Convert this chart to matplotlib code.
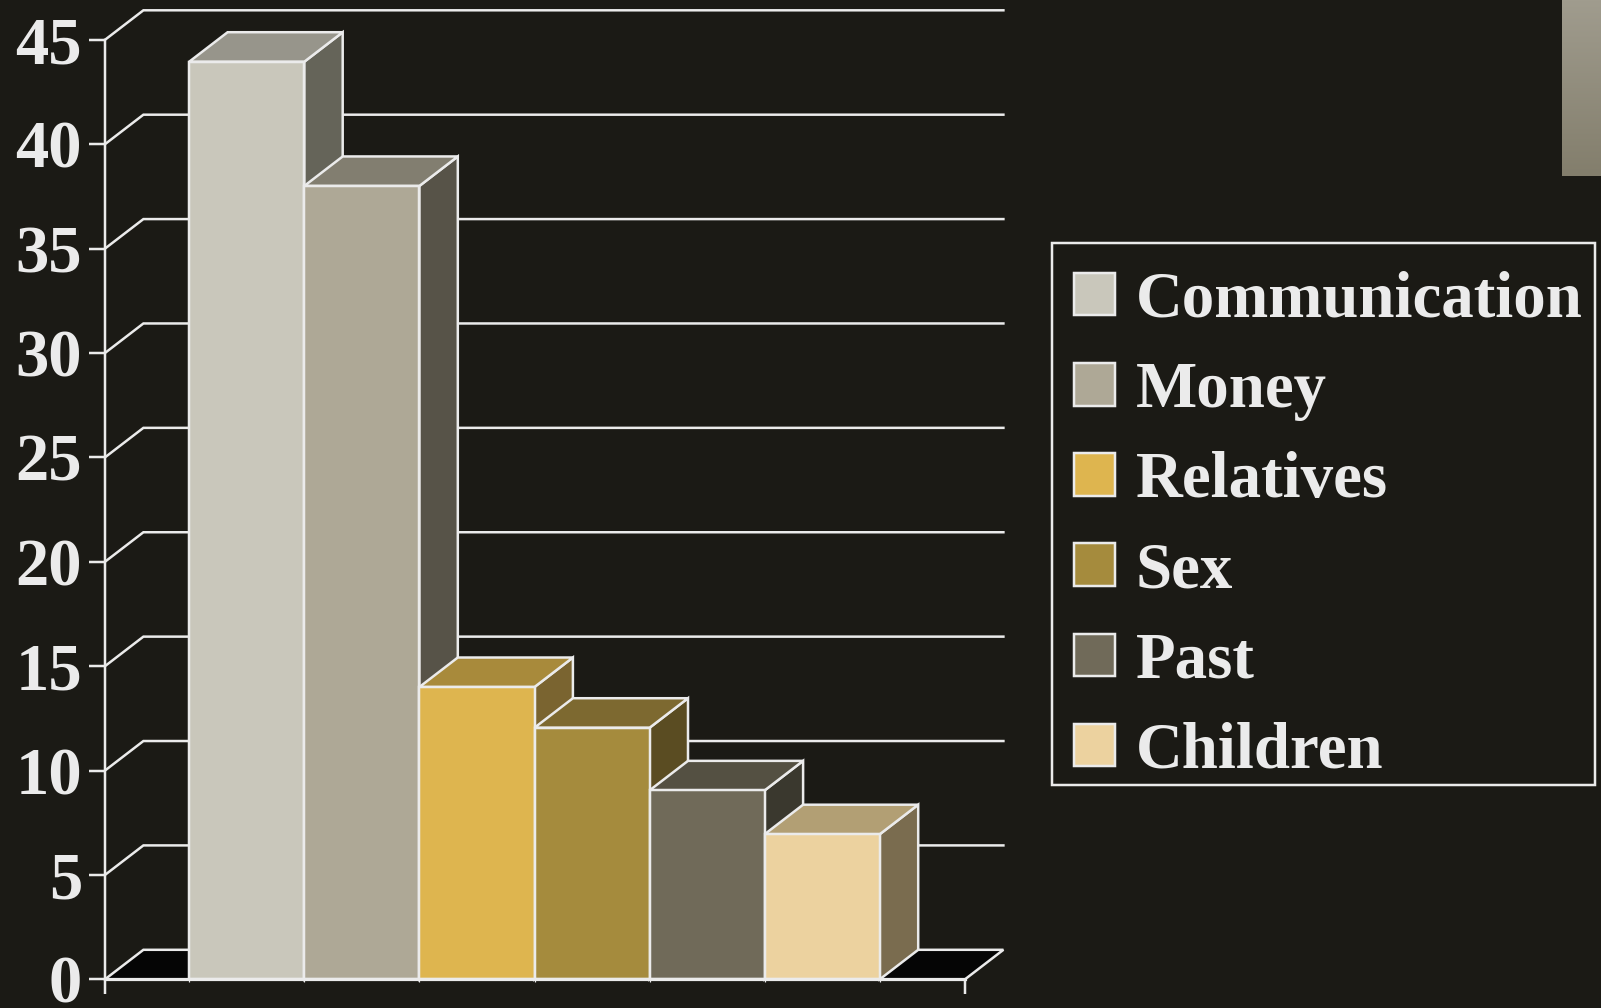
import matplotlib
matplotlib.use("Agg")
import matplotlib.pyplot as plt
import numpy as np
from matplotlib.patches import Polygon, Patch, Rectangle
from matplotlib.transforms import ScaledTranslation

categories = ["Communication", "Money", "Relatives", "Sex", "Past", "Children"]
values = [43.95, 38.0, 14, 12.05, 9.05, 6.95]
front_colors = ["#C9C7BB", "#AEA896", "#DEB54F", "#A58B3D", "#706A59", "#ECD29F"]
top_colors = ["#97958B", "#827E70", "#A88A3B", "#7D6930", "#545042", "#B29F74"]
side_colors = ["#656459", "#575348", "#7A6430", "#5A4C22", "#3A382E", "#7A6C4F"]
y_ticks = [0, 5, 10, 15, 20, 25, 30, 35, 40, 45]

BG = "#1B1A15"
LINE = "#EBEBEB"
W, H = 1601, 1008
PX = 0.72  # points per pixel at dpi 100
LW = 2.5 * PX
FS = 48
LEG_FS = 46.7

plt.rcParams["font.family"] = ["Liberation Serif"]
plt.rcParams["font.weight"] = "bold"

fig = plt.figure(figsize=(W / 100, H / 100), dpi=100, facecolor=BG)

# plot rectangle in pixels
L, R, T, B = 105.0, 965.0, 39.8, 979.3
ax = fig.add_axes([L / W, 1 - B / H, (R - L) / W, (B - T) / H])
ax.set_facecolor("none")

unit_x = 115.1
x0_px = 189.2
ax.set_xlim((L - x0_px) / unit_x, (R - x0_px) / unit_x)
ax.set_ylim(0, 45)
xl, xr = ax.get_xlim()
dx = 38.4 / unit_x
dy = 29.5 / ((B - T) / 45)

# floor
ax.add_patch(Polygon([(xl, 0), (xl + dx, dy), (xr + dx, dy), (xr, 0)], closed=True,
                     facecolor="#050505", edgecolor=LINE, lw=LW, clip_on=False, zorder=1,
                     joinstyle="miter"))
# wall grid
for v in y_ticks[1:]:
    ax.plot([xl, xl + dx, xr + dx], [v, v + dy, v + dy], color=LINE, lw=LW,
            clip_on=False, zorder=1.5, solid_joinstyle="miter")

# bars
for i, (v, fc, tc, sc) in enumerate(zip(values, front_colors, top_colors, side_colors)):
    z = 2 + i * 0.1
    kw = dict(closed=True, edgecolor=LINE, lw=LW, clip_on=False, zorder=z, joinstyle="miter")
    ax.add_patch(Polygon([(i + 1, 0), (i + 1 + dx, dy), (i + 1 + dx, v + dy), (i + 1, v)], facecolor=sc, **kw))
    ax.add_patch(Polygon([(i, v), (i + dx, v + dy), (i + 1 + dx, v + dy), (i + 1, v)], facecolor=tc, **kw))
    ax.add_patch(Polygon([(i, 0), (i + 1, 0), (i + 1, v), (i, v)], facecolor=fc, **kw))

# axes
for s in ("top", "right"):
    ax.spines[s].set_visible(False)
for s in ("left", "bottom"):
    ax.spines[s].set_color(LINE)
    ax.spines[s].set_linewidth(LW)
    ax.spines[s].set_zorder(5)
ax.spines["bottom"].set_linewidth(3.2 * PX)

ax.set_yticks(y_ticks)
ax.tick_params(axis="y", length=16 * PX, width=LW, color=LINE, labelcolor="#EBEBEB",
               labelsize=FS, pad=7 * PX)
shift = ScaledTranslation(0, -7 / 100, fig.dpi_scale_trans)
for lab in ax.get_yticklabels():
    lab.set_fontweight("bold")
    lab.set_verticalalignment("center")
    lab.set_transform(lab.get_transform() + shift)
ax.set_xticks([xl, xr])
ax.set_xticklabels([])
ax.set_xticks(np.arange(len(values) + 1), minor=True)
ax.tick_params(axis="x", which="major", length=15 * PX, width=LW, color=LINE)
ax.tick_params(axis="x", which="minor", length=3 * PX, width=1.2 * PX, color=LINE)

# legend
handles = [Patch(facecolor=c, edgecolor=LINE, linewidth=LW) for c in front_colors]
leg = fig.legend(handles, categories, loc="upper left",
                 bbox_to_anchor=(1052 / W, 1 - 249 / H), borderaxespad=0,
                 prop={"family": "Liberation Serif", "weight": "bold", "size": LEG_FS},
                 labelcolor="#EBEBEB", handlelength=0.63, handleheight=0.63,
                 handletextpad=0.32, labelspacing=0.465, borderpad=0.339,
                 frameon=False)
# legend frame, whose box is wider than the legend's own padding gives
fig.add_artist(Rectangle((1052 / W, 1 - 785 / H), 543 / W, 542 / H,
                         transform=fig.transFigure, facecolor="none",
                         edgecolor=LINE, linewidth=LW))

# gradient block, top right
gax = fig.add_axes([1562 / W, 1 - 176 / H, 39 / W, 176 / H])
gax.axis("off")
gax.imshow(np.linspace(0, 1, 176).reshape(-1, 1),
           cmap=matplotlib.colors.LinearSegmentedColormap.from_list("g", ["#A09C8E", "#837E6C"]),
           aspect="auto")

fig.savefig("out.png", dpi=100, facecolor=BG)
